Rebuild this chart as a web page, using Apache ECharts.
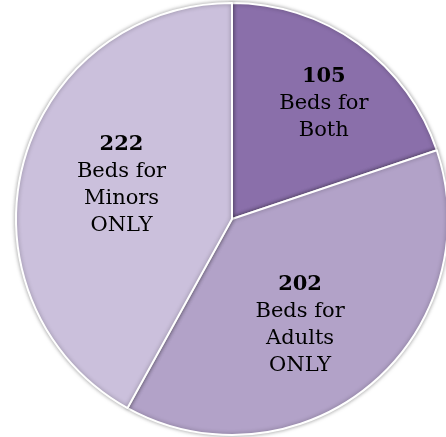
<!DOCTYPE html>
<html>
<head>
<meta charset="utf-8">
<script src="https://cdn.jsdelivr.net/npm/echarts@6/dist/echarts.min.js"></script>
<style>
  html, body { margin: 0; padding: 0; background: #fff; }
  #chart { width: 446px; height: 437px; }
</style>
</head>
<body>
<div id="chart"></div>
<script>
  // data
  let categories = ['Beds for\nBoth', 'Beds for\nAdults\nONLY', 'Beds for\nMinors\nONLY'];
  let values = [105, 202, 222];
  let colors = ['#8a6faa', '#b2a2c8', '#cbc0dc'];
  // nudges for label placement (px)
  let labelShift = [[27, -25], [-3, 21], [-3, -6]];

  let seriesData = [];
  for (let i = 0; i < values.length; i++) {
    seriesData.push({
      name: categories[i],
      value: values[i],
      itemStyle: { color: colors[i] }
    });
  }

  let chart = echarts.init(document.getElementById('chart'));
  let options = {
    animation: false,
    series: [
      {
        type: 'pie',
        center: [232, 219],
        radius: [0, 216],
        startAngle: 90,
        clockwise: true,
        data: seriesData,
        itemStyle: {
          borderColor: '#ffffff',
          borderWidth: 2,
          shadowBlur: 4,
          shadowColor: 'rgba(0,0,0,0.35)'
        },
        label: {
          position: 'inside',
          formatter: function (p) {
            return '{v|' + p.value + '}\n{t|' + p.name.split('\n').join('}\n{t|') + '}';
          },
          rich: {
            v: { fontFamily: 'DejaVu Serif', fontSize: 21, fontWeight: 'bold', color: '#000', lineHeight: 27 },
            t: { fontFamily: 'DejaVu Serif', fontSize: 21, color: '#000', lineHeight: 27 }
          }
        },
        labelLine: { show: false },
        labelLayout: function (params) {
          let s = labelShift[params.dataIndex];
          return { dx: s[0], dy: s[1] };
        }
      }
    ]
  };
  chart.setOption(options);
</script>
</body>
</html>
